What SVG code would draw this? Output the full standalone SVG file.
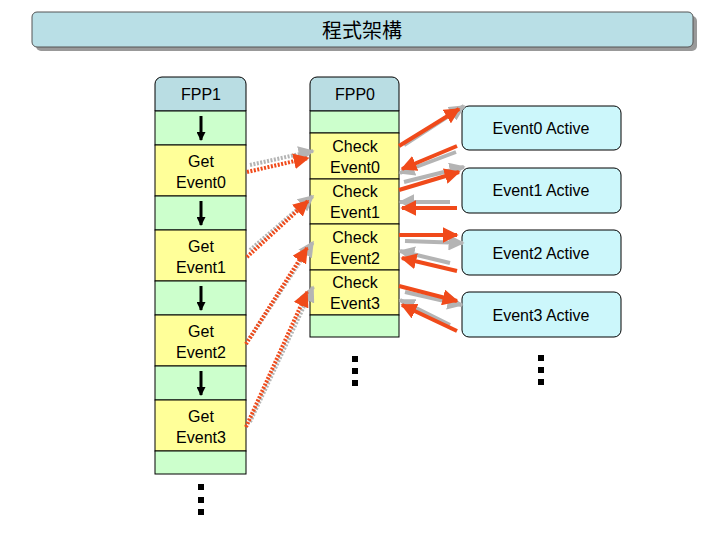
<svg xmlns="http://www.w3.org/2000/svg" width="720" height="540" viewBox="0 0 720 540">
<defs>
<marker id="ar" viewBox="0 0 10 10" refX="9" refY="5" markerWidth="4" markerHeight="4" orient="auto"><path d="M0,0L10,5L0,10z" fill="#f04a1a"/></marker>
<marker id="ag" viewBox="0 0 10 10" refX="9" refY="5" markerWidth="4" markerHeight="4" orient="auto"><path d="M0,0L10,5L0,10z" fill="#b4b4b4"/></marker>
<marker id="ab" viewBox="0 0 10 10" refX="9" refY="5" markerWidth="3.5" markerHeight="3" orient="auto"><path d="M0,0L10,5L0,10z" fill="#000"/></marker>
</defs>
<style>
text{font-family:"Liberation Sans",Arial,sans-serif;font-size:16px;text-anchor:middle;fill:#000}
.g{fill:#ccffcc;stroke:#000;stroke-width:1}
.y{fill:#ffff99;stroke:#000;stroke-width:1}
.h{fill:#b9dde3;stroke:#000;stroke-width:1}
.e{fill:#ccf7fb;stroke:#000;stroke-width:1}
.r{stroke:#f04a1a;stroke-width:4;fill:none;marker-end:url(#ar)}
.s{stroke:#b4b4b4;stroke-width:4;fill:none;marker-end:url(#ag)}
.rd{stroke:#f04a1a;stroke-width:4;stroke-dasharray:2 1.5;fill:none;marker-end:url(#ar)}
.sd{stroke:#b4b4b4;stroke-width:4;stroke-dasharray:2 1.5;fill:none;marker-end:url(#ag)}
.k{stroke:#000;stroke-width:3;marker-end:url(#ab)}
</style>
<g id="title">
<rect x="36" y="16" width="661" height="35" rx="5" fill="#999"/>
<rect x="32" y="12" width="661" height="35" rx="5" fill="#b9dfe6" stroke="#555"/>
<text x="362" y="38" style="font-family:'Noto Sans CJK TC',sans-serif;font-size:20px">程式架構</text>
</g>
<g id="fpp1">
<path d="M155,111V84a7,7 0 0 1 7-7h77a7,7 0 0 1 7,7V111z" class="h"/>
<text x="201" y="100">FPP1</text>
<rect x="155" y="111" width="91" height="34" class="g"/>
<rect x="155" y="145" width="91" height="51" class="y"/>
<rect x="155" y="196" width="91" height="34" class="g"/>
<rect x="155" y="230" width="91" height="51" class="y"/>
<rect x="155" y="281" width="91" height="34" class="g"/>
<rect x="155" y="315" width="91" height="51" class="y"/>
<rect x="155" y="366" width="91" height="34" class="g"/>
<rect x="155" y="400" width="91" height="51" class="y"/>
<rect x="155" y="451" width="91" height="23" class="g"/>
<line x1="201" y1="116" x2="201" y2="140" class="k"/>
<line x1="201" y1="201" x2="201" y2="225" class="k"/>
<line x1="201" y1="286" x2="201" y2="310" class="k"/>
<line x1="201" y1="371" x2="201" y2="395" class="k"/>
<text x="201" y="167">Get</text><text x="201" y="188">Event0</text>
<text x="201" y="252">Get</text><text x="201" y="273">Event1</text>
<text x="201" y="337">Get</text><text x="201" y="358">Event2</text>
<text x="201" y="422">Get</text><text x="201" y="443">Event3</text>
<g fill="#000"><rect x="198" y="484" width="6" height="6"/><rect x="198" y="497" width="6" height="6"/><rect x="198" y="509" width="6" height="6"/></g>
</g>
<g id="fpp0">
<path d="M310,111V84a7,7 0 0 1 7-7h75a7,7 0 0 1 7,7V111z" class="h"/>
<text x="355" y="100">FPP0</text>
<rect x="310" y="111" width="89" height="22" class="g"/>
<rect x="310" y="133" width="89" height="46" class="y"/>
<rect x="310" y="179" width="89" height="45" class="y"/>
<rect x="310" y="224" width="89" height="46" class="y"/>
<rect x="310" y="270" width="89" height="45" class="y"/>
<rect x="310" y="315" width="89" height="22" class="g"/>
<text x="355" y="152">Check</text><text x="355" y="173">Event0</text>
<text x="355" y="197">Check</text><text x="355" y="218">Event1</text>
<text x="355" y="243">Check</text><text x="355" y="264">Event2</text>
<text x="355" y="288">Check</text><text x="355" y="309">Event3</text>
<g fill="#000"><rect x="352" y="356" width="6" height="6"/><rect x="352" y="368" width="6" height="6"/><rect x="352" y="380" width="6" height="6"/></g>
</g>
<g id="ev0"><rect x="462" y="106" width="159" height="44" rx="7" class="e"/><text x="541" y="134">Event0 Active</text></g>
<g id="ev1"><rect x="462" y="168" width="159" height="45" rx="7" class="e"/><text x="541" y="196">Event1 Active</text></g>
<g id="ev2"><rect x="462" y="230" width="159" height="45" rx="7" class="e"/><text x="541" y="259">Event2 Active</text></g>
<g id="ev3"><rect x="462" y="292" width="159" height="45" rx="7" class="e"/><text x="541" y="321">Event3 Active</text></g>
<g fill="#000"><rect x="538" y="355" width="6" height="6"/><rect x="538" y="367" width="6" height="6"/><rect x="538" y="379" width="6" height="6"/></g>
<g id="connectors">
<line x1="404" y1="145" x2="464" y2="106" class="s"/><line x1="399" y1="146" x2="459" y2="109" class="r"/>
<line x1="456" y1="152" x2="400" y2="173" class="s"/><line x1="457" y1="146" x2="402" y2="169" class="r"/>
<line x1="404" y1="182" x2="464" y2="167" class="s"/><line x1="399" y1="190" x2="459" y2="172" class="r"/>
<line x1="450" y1="202" x2="400" y2="202" class="s"/><line x1="457" y1="208" x2="402" y2="208" class="r"/>
<line x1="405" y1="241" x2="463" y2="243" class="s"/><line x1="399" y1="235" x2="457" y2="235" class="r"/>
<line x1="450" y1="263" x2="400" y2="251" class="s"/><line x1="457" y1="271" x2="402" y2="258" class="r"/>
<line x1="405" y1="292" x2="462" y2="305" class="s"/><line x1="399" y1="286" x2="457" y2="301" class="r"/>
<line x1="450" y1="325" x2="400" y2="300" class="s"/><line x1="457" y1="331" x2="402" y2="305" class="r"/>
<line x1="250" y1="165" x2="313" y2="151" class="sd"/><line x1="247" y1="172" x2="308" y2="158" class="rd"/>
<line x1="250" y1="250" x2="313" y2="196" class="sd"/><line x1="247" y1="257" x2="308" y2="201" class="rd"/>
<line x1="250" y1="338" x2="313" y2="242" class="sd"/><line x1="246" y1="344" x2="307" y2="248" class="rd"/>
<line x1="250" y1="422" x2="313" y2="287" class="sd"/><line x1="246" y1="427" x2="307" y2="292" class="rd"/>
</g>
</svg>
